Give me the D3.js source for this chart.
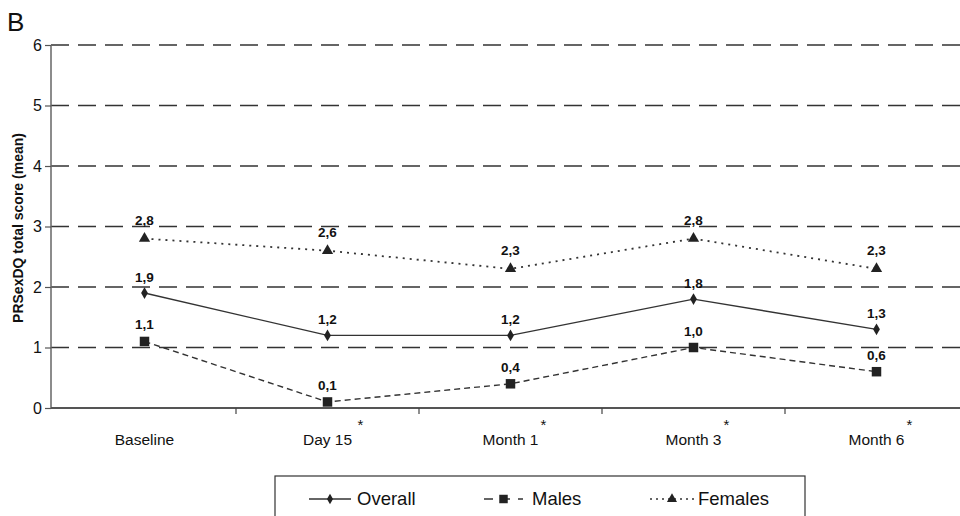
<!DOCTYPE html>
<html>
<head>
<meta charset="utf-8">
<script src="https://cdn.jsdelivr.net/npm/d3@7"></script>
<style>
  body { margin: 0; background: #fff; }
  svg { display: block; font-family: 'Liberation Sans', Arial, sans-serif; }
</style>
</head>
<body>
<svg id="chart" width="960" height="516"></svg>
<script>
const categories = ['Baseline', 'Day 15', 'Month 1', 'Month 3', 'Month 6']
const starred = [false, true, true, true, true]
const overall = [1.9, 1.2, 1.2, 1.8, 1.3]
const males = [1.1, 0.1, 0.4, 1.0, 0.6]
const females = [2.8, 2.6, 2.3, 2.8, 2.3]
const yTicks = [0, 1, 2, 3, 4, 5, 6]

const series = [
  { name: 'Overall', values: overall, dash: null, marker: 'diamond', dy: -11 },
  { name: 'Males', values: males, dash: '6,4', marker: 'square', dy: -12 },
  { name: 'Females', values: females, dash: '2,5', marker: 'triangle', dy: -14 }
]

const svg = d3.select('#chart')
const fmt = v => d3.format('.1f')(v).replace('.', ',')

const x = d3.scaleBand().domain(categories).range([53, 968])
const y = d3.scaleLinear().domain([0, 6]).range([408, 45])
const cx = c => x(c) + x.bandwidth() / 2

// gridlines
svg.append('g')
  .selectAll('line')
  .data(yTicks.filter(d => d > 0))
  .enter().append('line')
  .attr('x1', 51).attr('x2', 960)
  .attr('y1', d => y(d)).attr('y2', d => y(d))
  .attr('stroke', '#333').attr('stroke-width', 1.6)
  .attr('stroke-dasharray', '18,9')

// y axis
const yAxis = svg.append('g')
  .attr('transform', 'translate(51,0)')
  .call(d3.axisLeft(y).tickValues(yTicks).tickSize(6).tickFormat(d3.format('d')))
yAxis.select('.domain').attr('stroke', '#666').attr('stroke-width', 1.5).attr('d', `M0,${y(6)}V${y(0)}`)
yAxis.selectAll('.tick line').attr('stroke', '#555').attr('stroke-width', 1.2)
yAxis.selectAll('.tick text').attr('font-size', 16).attr('fill', '#111').attr('x', -9)

// x axis
const xAxis = svg.append('g')
  .attr('transform', `translate(0,${y(0)})`)
  .call(d3.axisBottom(x).tickSize(0).tickFormat(''))
xAxis.select('.domain').attr('stroke', '#555').attr('stroke-width', 2.2).attr('d', `M51,0H960`)
xAxis.selectAll('.sep')
  .data(categories.slice(1))
  .enter().append('line')
  .attr('class', 'sep')
  .attr('x1', d => x(d)).attr('x2', d => x(d))
  .attr('y1', 0).attr('y2', 6)
  .attr('stroke', '#444').attr('stroke-width', 1.2)

const labels = svg.append('g')
categories.forEach((c, i) => {
  labels.append('text')
    .attr('x', cx(c)).attr('y', 445)
    .attr('text-anchor', 'middle')
    .attr('font-size', 15.5).attr('fill', '#111')
    .text(c)
  if (starred[i]) {
    labels.append('text')
      .attr('x', cx(c) + 33).attr('y', 430)
      .attr('text-anchor', 'middle')
      .attr('font-size', 15).attr('fill', '#111')
      .text('*')
  }
})

// y axis title
svg.append('text')
  .attr('transform', 'translate(23,228) rotate(-90)')
  .attr('text-anchor', 'middle')
  .attr('font-size', 14).attr('font-weight', 'bold').attr('fill', '#111')
  .text('PRSexDQ total score (mean)')

// panel letter
svg.append('text')
  .attr('x', 7).attr('y', 31)
  .attr('font-size', 26).attr('fill', '#111')
  .text('B')

const symbolFor = m => m === 'diamond' ? d3.symbolDiamond : m === 'square' ? d3.symbolSquare : d3.symbolTriangle
const sizeFor = m => m === 'diamond' ? 40 : m === 'square' ? 90 : 55

const line = d3.line().x((d, i) => cx(categories[i])).y(d => y(d))

series.forEach(s => {
  const g = svg.append('g')
  g.append('path')
    .attr('d', line(s.values))
    .attr('fill', 'none')
    .attr('stroke', '#333')
    .attr('stroke-width', s.name === 'Females' ? 1.8 : 1.4)
    .attr('stroke-dasharray', s.dash)
  g.selectAll('.pt')
    .data(s.values)
    .enter().append('path')
    .attr('class', 'pt')
    .attr('transform', (d, i) => `translate(${cx(categories[i])},${y(d)})`)
    .attr('d', d3.symbol().type(symbolFor(s.marker)).size(sizeFor(s.marker)))
    .attr('fill', '#222')
  g.selectAll('.lbl')
    .data(s.values)
    .enter().append('text')
    .attr('class', 'lbl')
    .attr('x', (d, i) => cx(categories[i]))
    .attr('y', d => y(d) + s.dy)
    .attr('text-anchor', 'middle')
    .attr('font-size', 13.5).attr('font-weight', 'bold').attr('fill', '#111')
    .text(d => fmt(d))
})

// legend
const legend = svg.append('g')
legend.append('rect')
  .attr('x', 275).attr('y', 476).attr('width', 530).attr('height', 50)
  .attr('fill', 'none').attr('stroke', '#333').attr('stroke-width', 1.2)

const legendPos = [{ x1: 309, x2: 351, tx: 357 }, { x1: 484, x2: 523, tx: 532 }, { x1: 650, x2: 694, tx: 698 }]
series.forEach((s, i) => {
  const p = legendPos[i]
  legend.append('line')
    .attr('x1', p.x1).attr('x2', p.x2).attr('y1', 499).attr('y2', 499)
    .attr('stroke', '#333').attr('stroke-width', 1.4)
    .attr('stroke-dasharray', s.name === 'Males' ? '9,8' : s.name === 'Females' ? '2,4' : null)
  legend.append('path')
    .attr('transform', `translate(${(p.x1 + p.x2) / 2},499)`)
    .attr('d', d3.symbol().type(symbolFor(s.marker)).size(sizeFor(s.marker) * 0.8))
    .attr('fill', '#222')
  legend.append('text')
    .attr('x', p.tx).attr('y', 505)
    .attr('font-size', 18.5).attr('fill', '#111')
    .text(s.name)
})
</script>
</body>
</html>
